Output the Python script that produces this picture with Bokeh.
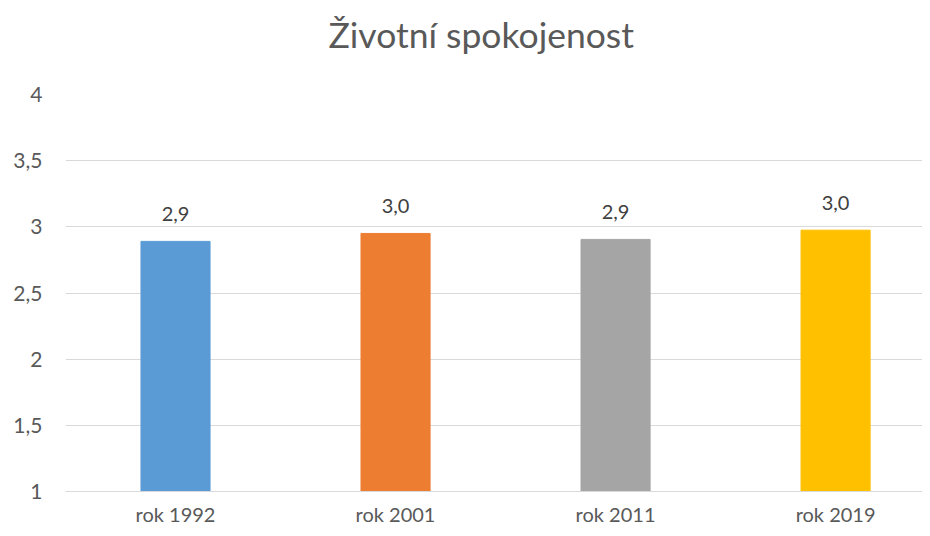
from bokeh.plotting import figure
from bokeh.models import ColumnDataSource, Range1d, FixedTicker, LabelSet, Title, CustomJSTickFormatter
from bokeh.core.properties import value
from bokeh.embed import file_html
from bokeh.resources import INLINE

title_text = "Životní spokojenost"
categories = ["rok 1992", "rok 2001", "rok 2011", "rok 2019"]
values = [2.89, 2.95, 2.905, 2.975]
value_labels = ["2,9", "3,0", "2,9", "3,0"]
colors = ["#5B9BD5", "#ED7D31", "#A5A5A5", "#FFC000"]
y_ticks = [1, 1.5, 2, 2.5, 3, 3.5, 4]

FONT = "Lato"
xpos = [i + 0.5 for i in range(len(categories))]
src = ColumnDataSource(dict(x=xpos, top=values, color=colors, lab=value_labels, cat=categories))

p = figure(width=922, height=528, output_backend="svg", toolbar_location=None,
           x_range=Range1d(0, 3.895), y_range=Range1d(1, 4.0),
           min_border_left=65, min_border_right=0, min_border_top=94, min_border_bottom=34)

p.vbar(x="x", top="top", bottom=1, width=0.314, color="color", source=src)

labels = LabelSet(x="x", y="top", text="lab", source=src, text_align="center",
                  text_baseline="bottom", y_offset=20, text_font=value(FONT),
                  text_font_size="20px", text_color="#404040")
p.add_layout(labels)

# spacer between the frame and the title (nearest the frame)
p.add_layout(Title(text=" ", text_font_size="1px", standoff=36, text_color="white"), "above")
# main title
p.add_layout(Title(text=title_text, text_font=FONT, text_font_size="35.5px",
                   text_font_style="normal", text_color="#595959",
                   align="left", offset=263, standoff=0), "above")

p.outline_line_color = None
p.background_fill_color = "white"
p.border_fill_color = "white"

p.xgrid.grid_line_color = None
p.ygrid.grid_line_color = "#D9D9D9"
p.ygrid.grid_line_width = 1
p.yaxis.ticker = FixedTicker(ticks=y_ticks)
p.yaxis.formatter = CustomJSTickFormatter(code="return String(tick).replace('.', ',');")
p.yaxis.axis_line_color = None
p.yaxis.major_tick_line_color = None
p.yaxis.minor_tick_line_color = None
p.yaxis.major_tick_out = 0
p.yaxis.major_label_standoff = 23
p.yaxis.major_label_text_font = FONT
p.yaxis.major_label_text_font_size = "21px"
p.yaxis.major_label_text_color = "#595959"

p.xaxis.ticker = FixedTicker(ticks=xpos)
p.xaxis.major_label_overrides = {x: c for x, c in zip(xpos, categories)}
p.xaxis.axis_line_color = "#D9D9D9"
p.xaxis.major_tick_line_color = None
p.xaxis.minor_tick_line_color = None
p.xaxis.major_tick_out = 0
p.xaxis.major_label_standoff = 10
p.xaxis.major_label_text_font = FONT
p.xaxis.major_label_text_font_size = "20px"
p.xaxis.major_label_text_color = "#595959"

open("out.html", "w").write(file_html(p, INLINE))
